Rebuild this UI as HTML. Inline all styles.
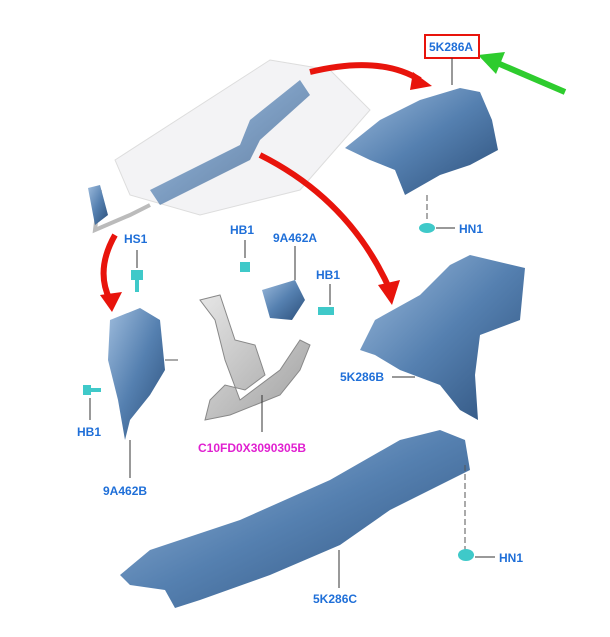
<!DOCTYPE html>
<html><head><meta charset="utf-8"><style>
html,body{margin:0;padding:0;background:#fff;}
svg{display:block}
text{font-family:"Liberation Sans",sans-serif;font-weight:bold;font-size:12px;fill:#1f6fd8}
</style></head><body>
<svg width="610" height="637" viewBox="0 0 610 637" xmlns="http://www.w3.org/2000/svg">
<defs>
<linearGradient id="b" x1="0" y1="0" x2="1" y2="1"><stop offset="0" stop-color="#9dbbdc"/><stop offset="0.5" stop-color="#5580b0"/><stop offset="1" stop-color="#2c4f7a"/></linearGradient>
<linearGradient id="g" x1="0" y1="0" x2="1" y2="1"><stop offset="0" stop-color="#e6e6e6"/><stop offset="1" stop-color="#a0a0a0"/></linearGradient>
</defs>
<!-- floor pan -->
<path d="M115,160 L270,60 L330,70 L370,110 L300,190 L200,215 L130,195z" fill="#f3f3f5" stroke="#ddd"/>
<path d="M150,190 L240,145 L250,120 L300,80 L310,95 L260,140 L250,160 L160,205z" fill="url(#b)" opacity="0.75"/>
<path d="M100,190 L95,230 L130,215 L150,205" fill="none" stroke="#bbb" stroke-width="4"/>
<path d="M88,188 L100,185 L108,215 L95,225z" fill="url(#b)"/>
<!-- red arrows -->
<path d="M310,72 Q380,55 420,80" fill="none" stroke="#e8140c" stroke-width="6"/>
<path d="M413,72 L432,86 L410,90z" fill="#e8140c"/>
<path d="M260,155 Q350,200 390,290" fill="none" stroke="#e8140c" stroke-width="6"/>
<path d="M378,285 L392,305 L400,280z" fill="#e8140c"/>
<path d="M115,235 Q95,270 110,300" fill="none" stroke="#e8140c" stroke-width="6"/>
<path d="M100,295 L112,312 L122,292z" fill="#e8140c"/>
<!-- green arrow -->
<path d="M565,92 L495,62" stroke="#2ecc2e" stroke-width="6"/>
<path d="M478,55 L505,52 L496,74z" fill="#2ecc2e"/>
<!-- 5K286A -->
<rect x="425" y="35" width="54" height="23" fill="none" stroke="#e8140c" stroke-width="2"/>
<text x="429" y="51">5K286A</text>
<line x1="452" y1="58" x2="452" y2="85" stroke="#333"/>
<path d="M345,148 L380,120 L420,100 L460,88 L480,92 L492,120 L498,150 L470,165 L440,175 L405,195 L395,170 L370,160z" fill="url(#b)"/>
<line x1="427" y1="195" x2="427" y2="222" stroke="#555" stroke-dasharray="6,3"/>
<ellipse cx="427" cy="228" rx="8" ry="5" fill="#3fc9c9"/>
<line x1="436" y1="228" x2="455" y2="228" stroke="#333"/>
<text x="459" y="233">HN1</text>
<!-- 5K286B -->
<path d="M360,350 L375,320 L420,295 L450,265 L470,255 L525,268 L520,320 L480,335 L475,375 L478,420 L460,410 L440,385 L400,370 L375,355z" fill="url(#b)"/>
<text x="340" y="381">5K286B</text>
<line x1="392" y1="377" x2="415" y2="377" stroke="#333"/>
<!-- 5K286C -->
<path d="M120,575 L150,550 L240,520 L330,480 L400,440 L440,430 L465,440 L470,470 L390,510 L340,545 L270,575 L200,600 L175,608 L165,590 L130,585z" fill="url(#b)"/>
<line x1="339" y1="550" x2="339" y2="588" stroke="#333"/>
<text x="313" y="603">5K286C</text>
<line x1="465" y1="465" x2="465" y2="550" stroke="#555" stroke-dasharray="6,3"/>
<ellipse cx="466" cy="555" rx="8" ry="6" fill="#3fc9c9"/>
<line x1="475" y1="557" x2="495" y2="557" stroke="#333"/>
<text x="499" y="562">HN1</text>
<!-- 9A462B -->
<path d="M110,320 L140,308 L160,320 L165,370 L150,395 L130,420 L125,440 L118,400 L108,360z" fill="url(#b)"/>
<line x1="130" y1="440" x2="130" y2="478" stroke="#333"/>
<text x="103" y="495">9A462B</text>
<text x="124" y="243">HS1</text>
<line x1="137" y1="250" x2="137" y2="268" stroke="#333"/>
<path d="M131,270 h12 v10 h-4 v12 h-4 v-12 h-4z" fill="#3fc9c9"/>
<path d="M83,385 h8 v10 h-8z M91,388 h10 v4 h-10z" fill="#3fc9c9"/>
<line x1="90" y1="398" x2="90" y2="420" stroke="#333"/>
<text x="77" y="436">HB1</text>
<line x1="165" y1="360" x2="178" y2="360" stroke="#555"/>
<!-- catalyst -->
<path d="M200,300 L220,295 L235,340 L255,345 L265,375 L245,390 L225,385 L210,400 L205,420 L230,415 L280,395 L300,370 L310,345 L300,340 L280,370 L240,400 L225,360 L215,320z" fill="url(#g)" stroke="#888"/>
<line x1="262" y1="395" x2="262" y2="432" stroke="#333"/>
<text x="198" y="452" style="fill:#e020d0">C10FD0X3090305B</text>
<!-- 9A462A -->
<path d="M262,290 L295,280 L305,300 L292,320 L270,318z" fill="url(#b)"/>
<text x="230" y="234">HB1</text>
<text x="273" y="242">9A462A</text>
<line x1="295" y1="246" x2="295" y2="280" stroke="#333"/>
<line x1="245" y1="240" x2="245" y2="258" stroke="#333"/>
<path d="M240,262 h10 v10 h-10z" fill="#3fc9c9"/>
<text x="316" y="279">HB1</text>
<line x1="330" y1="284" x2="330" y2="305" stroke="#333"/>
<path d="M318,307 h16 v8 h-16z" fill="#3fc9c9"/>
</svg>
</body></html>
